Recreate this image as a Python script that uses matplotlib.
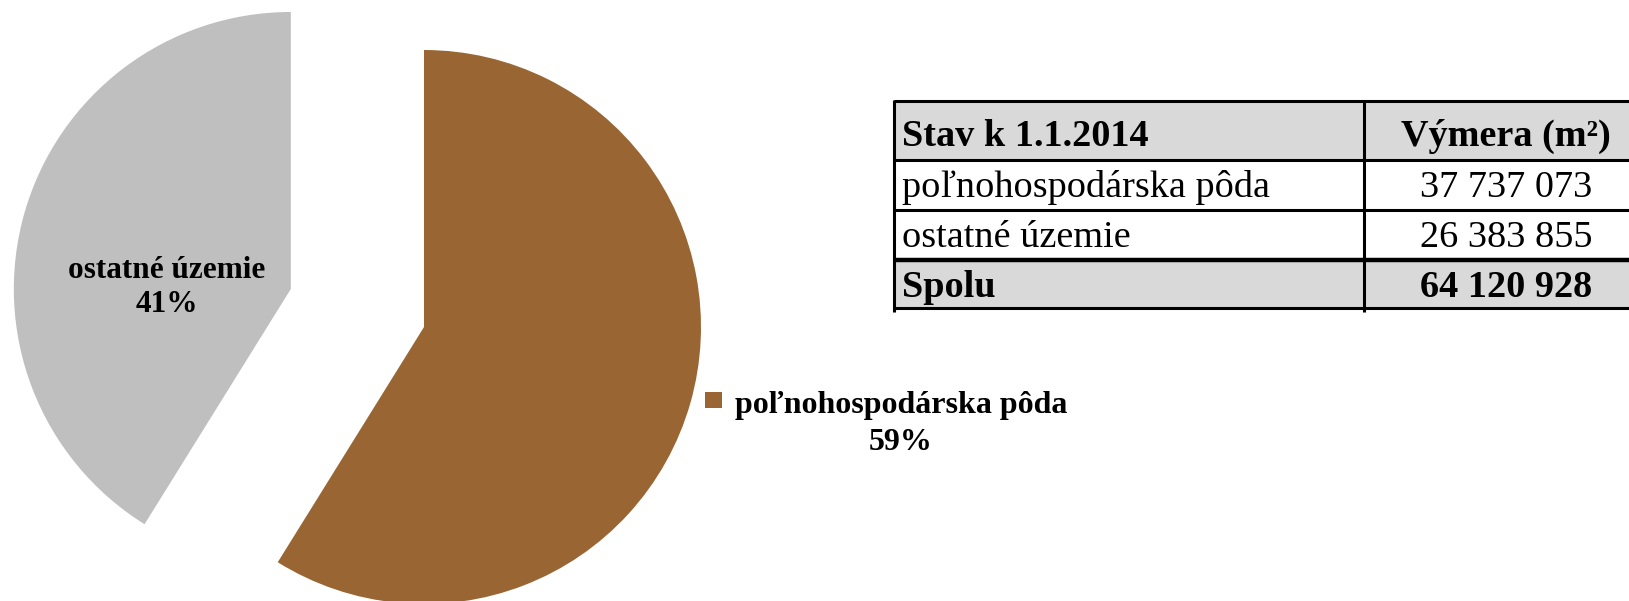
import matplotlib
matplotlib.use("Agg")
import matplotlib.pyplot as plt
from matplotlib.patches import Rectangle

# ---- data ----
categories = ["poľnohospodárska pôda", "ostatné územie"]
areas = [37737073, 26383855]
total_label = "Spolu"
total_value = 64120928
table_header = ["Stav k 1.1.2014", "Výmera (m²)"]

colors = ["#996633", "#BFBFBF"]
W, H = 1629, 601
SERIF = ["Liberation Serif", "DejaVu Serif"]

fig = plt.figure(figsize=(W / 100, H / 100), dpi=100)

# ---- pie ----
ax_pie = fig.add_axes([0, 0, 1, 1])
ax_pie.pie(areas, colors=colors, startangle=90, counterclock=False,
           explode=[0, 0.5], radius=1, wedgeprops=dict(linewidth=0))
R = 277.0
cx, cy = 424.0, 327.0
ax_pie.set_xlim(-cx / R, (W - cx) / R)
ax_pie.set_ylim(-(H - cy) / R, cy / R)
ax_pie.set_aspect("auto")
ax_pie.axis("off")

# ---- overlay in pixel coordinates ----
ax = fig.add_axes([0, 0, 1, 1])
ax.set_xlim(0, W)
ax.set_ylim(H, 0)
ax.axis("off")
ax.patch.set_alpha(0)

pct = [round(a / sum(areas) * 100) for a in areas]

# label inside grey slice
ax.text(167, 278, categories[1], ha="center", va="baseline", fontsize=22.5,
        fontweight="bold", family=SERIF)
ax.text(167, 312, f"{pct[1]}%", ha="center", va="baseline", fontsize=22.5,
        fontweight="bold", family=SERIF)

# legend-like label for brown slice
ax.add_patch(Rectangle((705, 392), 17, 16, facecolor=colors[0], edgecolor="none"))
ax.text(901, 413, categories[0], ha="center", va="baseline", fontsize=23,
        fontweight="bold", family=SERIF)
ax.text(901, 450, f"{pct[0]}%", ha="center", va="baseline", fontsize=23,
        fontweight="bold", family=SERIF)

# ---- table ----
x0, xm, x1 = 894, 1364, 1640
rows_y = [101, 160, 210, 260, 308]
gray = "#D9D9D9"
ax.add_patch(Rectangle((x0, rows_y[0]), x1 - x0, rows_y[1] - rows_y[0], facecolor=gray, edgecolor="none"))
ax.add_patch(Rectangle((x0, rows_y[3]), x1 - x0, rows_y[4] - rows_y[3], facecolor=gray, edgecolor="none"))

lw = 2.2
for i, y in enumerate(rows_y):
    w = 3.2 if i == 3 else lw
    ax.plot([x0, x1], [y, y], color="black", lw=w, solid_capstyle="butt")
ax.plot([x0, x0], [rows_y[0] - 1, 312], color="black", lw=lw, solid_capstyle="butt")
ax.plot([xm, xm], [rows_y[0] - 1, 312], color="black", lw=lw, solid_capstyle="butt")

fs_t = 27.5
def fmt(v):
    return f"{v:,}".replace(",", " ")

left_texts = [table_header[0]] + categories + [total_label]
right_texts = [table_header[1]] + [fmt(a) for a in areas] + [fmt(total_value)]
bold = [True, False, False, True]
baselines = [146, 197, 247, 297]
for lt, rt, b, yb in zip(left_texts, right_texts, bold, baselines):
    ax.text(902, yb, lt, ha="left", va="baseline", fontsize=fs_t,
            fontweight="bold" if b else "normal", family=SERIF)
    ax.text(1506, yb, rt, ha="center", va="baseline", fontsize=fs_t,
            fontweight="bold" if b else "normal", family=SERIF)

fig.savefig("out.png", dpi=100)
